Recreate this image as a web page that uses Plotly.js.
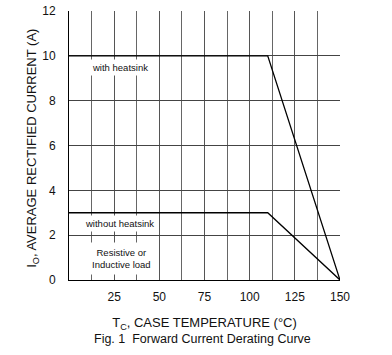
<!DOCTYPE html>
<html><head><meta charset="utf-8">
<script src="https://cdn.plot.ly/plotly-3.0.1.min.js"></script>
<style>body{margin:0;background:#fff}#c{width:392px;height:355px}</style>
</head><body><div id="c"></div>
<script>
const withTemp = [0, 110, 150];
const withCurrent = [10, 10, 0];
const withoutTemp = [0, 110, 150];
const withoutCurrent = [3, 3, 0];
const xTicks = [25, 50, 75, 100, 125, 150];
const yTicks = [0, 2, 4, 6, 8, 10, 12];

const line = {color: '#000', width: 1.3};
const data = [
  {x: withTemp, y: withCurrent, mode: 'lines', line: line, hoverinfo: 'skip'},
  {x: withoutTemp, y: withoutCurrent, mode: 'lines', line: line, hoverinfo: 'skip'}
];
const f = {family: 'Liberation Sans, Arial, sans-serif', color: '#111'};
const layout = {
  width: 392, height: 355,
  margin: {l: 69, r: 52, t: 11, b: 75},
  showlegend: false,
  paper_bgcolor: '#fff', plot_bgcolor: '#fff',
  font: Object.assign({size: 12}, f),
  xaxis: {
    range: [0, 150], tickvals: xTicks, ticktext: xTicks.map(String),
    showgrid: true, gridcolor: '#555', gridwidth: 1,
    minor: {dtick: 12.5, tick0: 0, showgrid: true, gridcolor: '#666', gridwidth: 1},
    showline: true, linecolor: '#000', linewidth: 1, mirror: false,
    ticks: 'outside', ticklen: 6, tickcolor: 'rgba(0,0,0,0)',
    zeroline: false, fixedrange: true,
    title: {text: 'T<sub>C</sub>, CASE TEMPERATURE (°C)', font: Object.assign({size: 13}, f), standoff: 14}
  },
  yaxis: {
    range: [0, 12], tickvals: yTicks,
    showgrid: true, gridcolor: '#444', gridwidth: 1,
    showline: true, linecolor: '#000', linewidth: 1,
    ticks: 'outside', ticklen: 10, tickcolor: 'rgba(0,0,0,0)',
    zeroline: false, fixedrange: true
  },
  annotations: [
    {x: -0.173, y: 0.49, xref: 'paper', yref: 'paper', textangle: -90, showarrow: false,
     text: 'I<sub>O</sub>, AVERAGE RECTIFIED CURRENT (A)', font: Object.assign({size: 13}, f)},
    {x: 28.3, y: 9.46, text: 'with heatsink', showarrow: false, bgcolor: '#fff',
     font: Object.assign({size: 9.5}, f), borderpad: 2},
    {x: 27.8, y: 2.5, text: 'without heatsink', showarrow: false, bgcolor: '#fff',
     font: Object.assign({size: 9.5}, f), borderpad: 2},
    {x: 29, y: 0.98, text: 'Resistive or<br>Inductive load', showarrow: false, bgcolor: '#fff',
     font: Object.assign({size: 9.5}, f), borderpad: 4},
    {x: 0.5, y: 0, xref: 'paper', yref: 'paper', xshift: -2, yshift: -50, yanchor: 'top',
     text: 'Fig. 1  Forward Current Derating Curve', showarrow: false,
     font: Object.assign({size: 12.5}, f)}
  ]
};
Plotly.newPlot('c', data, layout, {displayModeBar: false, staticPlot: true});
</script></body></html>
